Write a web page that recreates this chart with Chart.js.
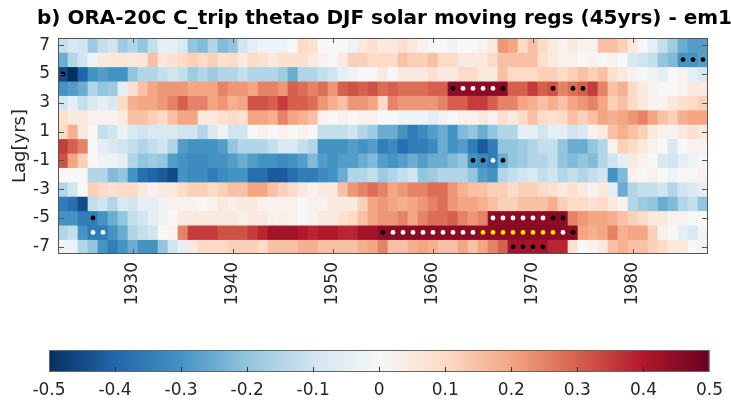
<!DOCTYPE html>
<html>
<head>
<meta charset="utf-8">
<script src="https://cdn.jsdelivr.net/npm/chart.js@4.4.1/dist/chart.umd.min.js"></script>
<style>
  html, body { margin: 0; padding: 0; background: #fff; }
  #wrap { position: relative; width: 731px; height: 402px; overflow: hidden; }
  #title { position: absolute; left: 0; top: 5px; width: 769px; text-align: center;
           font: bold 20px 'DejaVu Sans', sans-serif; color: #000; line-height: 24px; white-space: nowrap; }
  #main { position: absolute; left: 0; top: 0; }
  #cbar { position: absolute; left: 0; top: 330px; }
</style>
</head>
<body>
<div id="wrap">
  <canvas id="main" width="731" height="330"></canvas>
  <canvas id="cbar" width="731" height="72"></canvas>
  <div id="title">b) ORA-20C C_trip thetao DJF solar moving regs (45yrs) - em1</div>
</div>
<script>
// centre years of the 45-yr moving windows
const years = [1923,1924,1925,1926,1927,1928,1929,1930,1931,1932,1933,1934,1935,1936,1937,1938,
  1939,1940,1941,1942,1943,1944,1945,1946,1947,1948,1949,1950,1951,1952,1953,1954,1955,
  1956,1957,1958,1959,1960,1961,1962,1963,1964,1965,1966,1967,1968,1969,1970,1971,1972,
  1973,1974,1975,1976,1977,1978,1979,1980,1981,1982,1983,1984,1985,1986,1987];
const lags = [7, 6, 5, 4, 3, 2, 1, 0, -1, -2, -3, -4, -5, -6, -7];
const yearTicks = [1930, 1940, 1950, 1960, 1970, 1980];
const lagTicks = [-7, -5, -3, -1, 1, 3, 5, 7];
const cbarTicks = [-0.5, -0.4, -0.3, -0.2, -0.1, 0, 0.1, 0.2, 0.3, 0.4, 0.5];

// regression coefficients, one row per lag (top row = lag 7)
const regLag7 = [-0.12,-0.08,-0.10,-0.18,-0.12,-0.10,-0.18,-0.15,-0.20,-0.12,-0.05,-0.05,-0.08,-0.20,-0.22,-0.15,
  -0.22,-0.20,-0.10,-0.05,-0.03,-0.02,-0.03,0.00,0.10,0.08,0.00,0.00,0.00,-0.02,0.05,0.08,0.05,
  0.05,0.08,0.05,0.02,0.00,0.00,-0.02,0.00,0.00,0.02,0.05,0.22,0.20,0.10,0.15,0.10,0.05,
  0.02,0.05,0.02,0.02,0.15,0.15,0.12,0.05,0.00,-0.05,-0.12,-0.18,-0.25,-0.28,-0.28];
const regLag6 = [-0.25,-0.15,-0.10,-0.02,0.05,0.06,0.06,0.05,0.06,0.15,0.06,0.08,0.10,0.12,0.10,0.12,
  0.08,0.10,0.05,0.10,0.08,0.05,0.08,0.08,0.08,0.05,0.02,0.00,0.05,0.12,0.12,0.10,0.10,
  0.10,0.15,0.12,0.12,0.15,0.10,0.10,0.05,0.05,0.05,0.10,0.15,0.15,0.15,0.15,0.08,0.05,
  0.02,0.02,0.00,0.02,0.00,0.02,0.00,-0.08,-0.10,-0.12,-0.20,-0.22,-0.30,-0.30,-0.28];
const regLag5 = [-0.45,-0.50,-0.40,-0.30,-0.28,-0.30,-0.30,-0.20,-0.15,-0.15,-0.12,-0.10,-0.12,-0.18,-0.15,-0.18,
  -0.15,-0.15,-0.12,-0.15,-0.15,-0.15,-0.18,-0.25,-0.15,-0.15,-0.12,-0.10,-0.05,-0.02,0.00,0.00,0.05,
  0.00,0.05,0.05,0.05,0.08,0.05,0.05,0.10,0.10,0.05,0.05,0.15,0.10,0.10,0.10,0.12,0.12,
  0.10,0.12,0.15,0.12,0.15,0.08,0.05,0.02,0.00,-0.02,-0.05,0.00,0.02,-0.05,-0.08];
const regLag4 = [-0.30,-0.28,-0.25,-0.15,-0.20,-0.18,-0.05,0.08,0.15,0.20,0.22,0.22,0.22,0.20,0.20,0.20,
  0.25,0.22,0.22,0.20,0.25,0.25,0.22,0.30,0.28,0.25,0.28,0.22,0.30,0.32,0.30,0.32,0.28,
  0.30,0.28,0.28,0.28,0.30,0.30,0.45,0.45,0.45,0.45,0.45,0.45,0.30,0.30,0.35,0.30,0.32,
  0.25,0.28,0.30,0.35,0.25,0.15,0.18,0.10,0.05,0.02,0.00,0.00,0.02,0.05,0.05];
const regLag3 = [-0.10,-0.05,-0.12,-0.08,-0.05,-0.08,0.10,0.18,0.20,0.20,0.22,0.25,0.30,0.25,0.25,0.20,
  0.22,0.18,0.20,0.32,0.32,0.30,0.35,0.30,0.30,0.28,0.22,0.18,0.15,0.22,0.22,0.20,0.10,
  0.25,0.22,0.22,0.22,0.22,0.25,0.30,0.30,0.35,0.35,0.30,0.25,0.25,0.20,0.18,0.15,0.18,
  0.15,0.20,0.22,0.25,0.20,0.12,0.15,0.10,0.05,0.02,0.02,0.05,0.08,0.10,0.12];
const regLag2 = [0.08,0.05,0.05,0.02,0.02,0.02,0.05,0.15,0.15,0.12,0.10,0.15,0.20,0.20,0.05,0.05,
  0.08,0.10,0.08,0.20,0.20,0.18,0.25,0.20,0.18,0.15,0.02,0.00,0.02,0.00,0.02,0.02,0.00,
  0.00,-0.02,-0.02,-0.02,-0.05,-0.02,0.00,0.02,0.02,0.05,0.02,0.08,0.05,0.10,0.15,0.10,0.08,
  0.10,0.15,0.12,0.15,0.20,0.18,0.20,0.22,0.25,0.20,0.15,0.12,0.18,0.20,0.20];
const regLag1 = [0.10,0.18,0.05,0.00,-0.12,-0.10,-0.03,-0.08,-0.10,-0.08,-0.08,-0.08,-0.10,-0.10,-0.15,-0.08,
  -0.02,-0.10,-0.10,0.00,0.02,0.00,0.02,0.00,0.02,0.00,-0.12,-0.12,-0.12,-0.10,-0.15,-0.18,-0.25,
  -0.25,-0.30,-0.35,-0.32,-0.28,-0.25,-0.30,-0.22,-0.20,-0.25,-0.20,-0.15,-0.15,-0.05,-0.05,-0.10,-0.05,
  -0.05,-0.10,-0.08,0.02,0.05,0.15,0.18,0.15,0.12,0.05,0.02,0.02,0.05,0.08,0.05];
const regLag0 = [0.35,0.30,0.25,0.00,-0.05,-0.08,-0.10,-0.12,-0.15,-0.12,-0.10,-0.15,-0.28,-0.30,-0.30,-0.30,
  -0.28,-0.20,-0.15,-0.15,-0.15,-0.12,-0.08,-0.08,-0.12,-0.15,-0.30,-0.30,-0.30,-0.28,-0.30,-0.28,-0.35,
  -0.32,-0.38,-0.35,-0.35,-0.32,-0.25,-0.30,-0.28,-0.35,-0.42,-0.35,-0.20,-0.20,-0.18,-0.15,-0.12,-0.12,
  -0.20,-0.25,-0.25,-0.20,-0.15,0.02,0.12,0.10,0.05,0.02,0.00,-0.08,0.00,0.02,0.02];
const regLagM1 = [0.32,0.20,0.12,0.00,-0.02,-0.02,-0.05,-0.15,-0.20,-0.18,-0.20,-0.28,-0.30,-0.32,-0.32,-0.30,
  -0.30,-0.28,-0.25,-0.28,-0.30,-0.30,-0.32,-0.30,-0.28,-0.22,-0.28,-0.30,-0.28,-0.28,-0.25,-0.22,-0.28,
  -0.30,-0.28,-0.25,-0.28,-0.25,-0.25,-0.22,-0.20,-0.30,-0.32,-0.35,-0.25,-0.20,-0.18,-0.15,-0.15,-0.12,
  -0.20,-0.22,-0.20,-0.22,-0.15,-0.10,-0.05,0.05,0.02,0.00,-0.08,-0.10,-0.05,-0.02,0.00];
const regLagM2 = [0.00,0.00,0.00,-0.15,-0.15,-0.22,-0.20,-0.30,-0.38,-0.40,-0.42,-0.45,-0.30,-0.32,-0.32,-0.35,
  -0.32,-0.30,-0.30,-0.38,-0.38,-0.42,-0.42,-0.38,-0.35,-0.35,-0.32,-0.30,-0.25,-0.15,-0.15,-0.12,-0.18,
  -0.15,-0.12,-0.10,-0.20,-0.18,-0.15,-0.15,-0.15,-0.20,-0.28,-0.30,-0.15,-0.12,-0.10,-0.08,-0.12,-0.10,
  -0.15,-0.12,-0.15,-0.12,-0.10,-0.30,-0.22,0.02,0.00,0.02,0.00,-0.02,0.00,0.00,0.02];
const regLagM3 = [-0.15,-0.10,0.00,0.12,0.10,0.08,0.10,0.10,0.05,0.02,0.05,0.05,0.10,0.12,0.12,0.10,
  0.12,0.15,0.15,0.20,0.20,0.15,0.12,0.10,0.05,0.02,0.05,0.05,0.15,0.22,0.25,0.28,0.25,
  0.20,0.22,0.25,0.25,0.28,0.28,0.22,0.18,0.15,0.15,0.12,0.12,0.10,0.12,0.12,0.10,0.08,
  0.05,0.08,0.05,0.02,0.05,-0.05,-0.25,-0.15,-0.12,-0.12,-0.10,-0.15,-0.10,-0.08,-0.05];
const regLagM4 = [-0.35,-0.38,-0.45,-0.12,-0.10,-0.15,-0.08,-0.10,-0.05,-0.05,-0.02,0.02,0.02,0.02,0.00,0.02,
  0.05,0.03,0.05,0.05,0.02,0.02,0.02,0.02,0.00,0.02,0.02,0.05,0.05,0.05,0.12,0.20,0.22,
  0.20,0.18,0.20,0.22,0.25,0.28,0.22,0.20,0.20,0.18,0.15,0.12,0.12,0.15,0.15,0.15,0.18,
  0.12,0.10,0.10,0.08,0.10,0.05,0.02,-0.15,-0.18,-0.20,-0.25,-0.22,-0.15,-0.12,-0.20];
const regLagM5 = [-0.30,-0.30,-0.35,-0.35,-0.30,-0.25,-0.20,-0.12,-0.10,-0.05,-0.02,0.00,0.05,0.05,0.05,0.05,
  0.05,0.05,0.03,0.05,0.05,0.02,0.03,0.02,0.00,0.02,0.05,0.05,0.08,0.10,0.15,0.20,0.22,
  0.22,0.25,0.20,0.25,0.28,0.28,0.30,0.25,0.22,0.25,0.45,0.45,0.45,0.45,0.45,0.45,0.45,
  0.45,0.25,0.22,0.20,0.20,0.18,0.15,0.12,0.10,0.05,0.05,0.02,0.02,0.00,0.00];
const regLagM6 = [-0.15,-0.12,-0.30,-0.35,-0.35,-0.30,-0.25,-0.15,-0.12,-0.10,0.00,0.02,0.25,0.35,0.35,0.35,
  0.32,0.32,0.32,0.35,0.38,0.42,0.42,0.42,0.40,0.38,0.40,0.40,0.38,0.38,0.42,0.42,0.45,
  0.45,0.45,0.45,0.45,0.45,0.45,0.45,0.45,0.45,0.45,0.45,0.45,0.45,0.45,0.45,0.45,0.45,
  0.45,0.45,0.20,0.18,0.20,0.25,0.18,0.20,0.20,0.12,0.02,0.00,-0.05,-0.08,-0.02];
const regLagM7 = [-0.02,-0.03,-0.15,-0.20,-0.30,-0.35,-0.30,-0.25,-0.30,-0.30,-0.20,-0.10,-0.05,0.05,0.10,0.10,
  0.10,0.12,0.12,0.12,0.10,0.15,0.15,0.15,0.18,0.18,0.15,0.15,0.15,0.15,0.18,0.20,0.25,
  0.15,0.15,0.18,0.20,0.18,0.15,0.15,0.20,0.15,0.20,0.25,0.30,0.42,0.42,0.42,0.42,0.38,
  0.38,0.08,0.00,0.02,0.05,0.15,0.18,0.15,0.15,0.12,0.10,0.05,0.05,0.00,-0.02];
const rows = [regLag7, regLag6, regLag5, regLag4, regLag3, regLag2, regLag1, regLag0,
  regLagM1, regLagM2, regLagM3, regLagM4, regLagM5, regLagM6, regLagM7];

// significance markers: [year, lag]
const sigBlack = [[1923,5],[1926,-5],[1962,4],[1967,4],[1972,4],[1974,4],[1975,4],
  [1985,6],[1986,6],[1987,6],[1964,-1],[1965,-1],[1967,-1],[1972,-5],[1973,-5],
  [1955,-6],[1974,-6],[1968,-7],[1969,-7],[1970,-7],[1971,-7]];
const sigWhite = [[1963,4],[1964,4],[1965,4],[1966,4],[1966,-1],
  [1966,-5],[1967,-5],[1968,-5],[1969,-5],[1970,-5],[1971,-5],
  [1926,-6],[1927,-6],[1956,-6],[1957,-6],[1958,-6],[1959,-6],[1960,-6],[1961,-6],
  [1962,-6],[1963,-6],[1964,-6],[1973,-6]];
const sigYellow = [[1965,-6],[1966,-6],[1967,-6],[1968,-6],[1969,-6],[1970,-6],[1971,-6],[1972,-6]];

// RdBu style colormap, evenly spaced from cbarMin to cbarMax
const cbarMin = -0.5, cbarMax = 0.5;
const cmapStops = ['#053061', '#2166ac', '#4393c3', '#92c5de', '#d1e5f0', '#f7f7f7',
  '#fddbc7', '#f4a582', '#d6604d', '#b2182b', '#67001f'];

const FONT = "'DejaVu Sans', sans-serif";
const TXT = '#262626';

function hexRgb(h) {
  return [parseInt(h.slice(1, 3), 16), parseInt(h.slice(3, 5), 16), parseInt(h.slice(5, 7), 16)];
}

function cmap(v) {
  const n = cmapStops.length - 1;
  const t = Math.max(0, Math.min(1, (v - cbarMin) / (cbarMax - cbarMin))) * n;
  const i = Math.min(Math.floor(t), n - 1);
  const f = t - i;
  const a = hexRgb(cmapStops[i]), b = hexRgb(cmapStops[i + 1]);
  const c = a.map((x, k) => Math.round(x + (b[k] - x) * f));
  return `rgb(${c[0]},${c[1]},${c[2]})`;
}

// box round the axes with short ticks pointing inwards (matlab look)
const axesFrame = {
  id: 'axesFrame',
  afterDraw(chart) {
    const { ctx, chartArea: ca, scales } = chart;
    ctx.save();
    ctx.strokeStyle = '#555';
    ctx.lineWidth = 1;
    ctx.strokeRect(ca.left + 0.5, ca.top + 0.5, ca.right - ca.left - 1, ca.bottom - ca.top - 1);
    ctx.beginPath();
    yearTicks.forEach(v => {
      const x = Math.round(scales.x.getPixelForValue(v)) + 0.5;
      ctx.moveTo(x, ca.bottom); ctx.lineTo(x, ca.bottom - 5);
      ctx.moveTo(x, ca.top); ctx.lineTo(x, ca.top + 5);
    });
    lagTicks.forEach(v => {
      const y = Math.round(scales.y.getPixelForValue(v)) + 0.5;
      ctx.moveTo(ca.left, y); ctx.lineTo(ca.left + 6, y);
      ctx.moveTo(ca.right, y); ctx.lineTo(ca.right - 6, y);
    });
    ctx.stroke();
    ctx.restore();
  }
};

const cellSets = lags.map((lag, r) => ({
  type: 'bar',
  data: years.map(yr => ({ x: yr, y: [lag - 0.5, lag + 0.5] })),
  backgroundColor: rows[r].map(cmap),
  borderWidth: 0,
  grouped: false,
  barPercentage: 1,
  categoryPercentage: 1,
  order: 2
}));

const dotSet = (pts, color) => ({
  type: 'scatter',
  data: pts.map(p => ({ x: p[0], y: p[1] })),
  backgroundColor: color,
  borderWidth: 0,
  pointRadius: 2.4,
  order: 0
});

new Chart(document.getElementById('main'), {
  type: 'bar',
  data: {
    datasets: [...cellSets,
      dotSet(sigBlack, '#000'),
      dotSet(sigWhite, '#fff'),
      dotSet(sigYellow, '#f3e100')]
  },
  options: {
    responsive: false,
    animation: false,
    layout: { padding: { left: 0, right: 23, top: 38, bottom: 0 } },
    plugins: { legend: { display: false }, tooltip: { enabled: false } },
    scales: {
      x: {
        type: 'linear',
        min: 1922.5,
        max: 1987.5,
        offset: false,
        afterBuildTicks: s => { s.ticks = yearTicks.map(v => ({ value: v })); },
        afterFit: s => { s.height = 76; },
        grid: { display: false, drawTicks: false },
        border: { display: false },
        ticks: {
          autoSkip: false, minRotation: 90, maxRotation: 90, padding: 8,
          color: TXT, font: { family: FONT, size: 17 },
          callback: v => String(v)
        }
      },
      y: {
        type: 'linear',
        min: -7.5,
        max: 7.5,
        afterBuildTicks: s => { s.ticks = lagTicks.map(v => ({ value: v })); },
        afterFit: s => { s.width = 58; },
        grid: { display: false, drawTicks: false },
        border: { display: false },
        ticks: { padding: 8, color: TXT, font: { family: FONT, size: 17 }, callback: v => String(v) },
        title: {
          display: true, text: 'Lag[yrs]', color: TXT,
          font: { family: FONT, size: 18 }, padding: { top: 10, bottom: 0 }
        }
      }
    }
  },
  plugins: [axesFrame]
});

// colorbar
const cbarFrame = {
  id: 'cbarFrame',
  afterDraw(chart) {
    const { ctx, chartArea: ca, scales } = chart;
    ctx.save();
    ctx.strokeStyle = '#666';
    ctx.lineWidth = 1;
    ctx.strokeRect(ca.left + 0.5, ca.top + 0.5, ca.right - ca.left - 1, ca.bottom - ca.top - 1);
    ctx.strokeStyle = '#333';
    ctx.beginPath();
    cbarTicks.slice(1, -1).forEach(v => {
      const x = Math.round(scales.x.getPixelForValue(v)) + 0.5;
      ctx.moveTo(x, ca.bottom); ctx.lineTo(x, ca.bottom - 5);
    });
    ctx.stroke();
    ctx.restore();
  }
};

new Chart(document.getElementById('cbar'), {
  type: 'bar',
  data: {
    labels: ['cbar'],
    datasets: [{
      data: [[cbarMin, cbarMax]],
      backgroundColor: c => {
        const ca = c.chart.chartArea;
        if (!ca) return cmapStops[5];
        const g = c.chart.ctx.createLinearGradient(ca.left, 0, ca.right, 0);
        cmapStops.forEach((col, i) => g.addColorStop(i / (cmapStops.length - 1), col));
        return g;
      },
      borderWidth: 0,
      barPercentage: 1,
      categoryPercentage: 1
    }]
  },
  options: {
    indexAxis: 'y',
    responsive: false,
    animation: false,
    layout: { padding: { left: 49, right: 18, top: 20, bottom: 0 } },
    plugins: { legend: { display: false }, tooltip: { enabled: false } },
    scales: {
      y: { display: false },
      x: {
        type: 'linear',
        min: cbarMin,
        max: cbarMax,
        afterBuildTicks: s => { s.ticks = cbarTicks.map(v => ({ value: v })); },
        afterFit: s => { s.height = 30; },
        grid: { display: false, drawTicks: false },
        border: { display: false },
        ticks: {
          padding: 8, color: TXT, font: { family: FONT, size: 17 },
          callback: v => String(Math.round(v * 10) / 10)
        }
      }
    }
  },
  plugins: [cbarFrame]
});
</script>
</body>
</html>
